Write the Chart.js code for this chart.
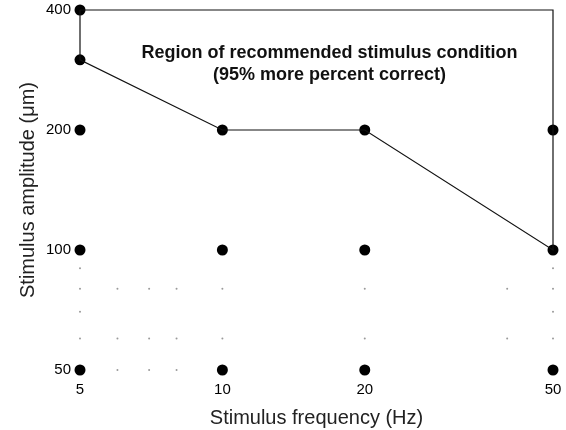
<!DOCTYPE html>
<html>
<head>
<meta charset="utf-8">
<script src="https://cdn.jsdelivr.net/npm/chart.js@4/dist/chart.umd.min.js"></script>
<style>
  html, body { margin: 0; padding: 0; background: #fff; }
  #wrap { width: 566px; height: 430px; }
</style>
</head>
<body>
<div id="wrap"><canvas id="c" width="566" height="430"></canvas></div>
<script>
// Measured stimulus conditions (frequency Hz, amplitude µm)
const measuredFreq = [5, 5, 5, 5, 5, 10, 10, 10, 20, 20, 20, 50, 50, 50];
const measuredAmp  = [400, 300, 200, 100, 50, 200, 100, 50, 200, 100, 50, 200, 100, 50];

// Boundary of recommended region
const regionFreq = [5, 5, 10, 20, 50, 50, 5];
const regionAmp  = [400, 300, 200, 200, 100, 400, 400];

// Faint background dots
const minorFreq = [5, 6, 7, 8, 10, 20, 40, 50, 5, 6, 7, 8, 10, 20, 40, 50, 5, 50, 5, 50, 6, 7, 8];
const minorAmp  = [80, 80, 80, 80, 80, 80, 80, 80, 60, 60, 60, 60, 60, 60, 60, 60, 70, 70, 90, 90, 50, 50, 50];

const xTicks = [5, 10, 20, 50];
const yTicks = [50, 100, 200, 400];

const regionLabel = ['Region of recommended stimulus condition', '(95% more percent correct)'];
const xTitle = 'Stimulus frequency (Hz)';
const yTitle = 'Stimulus amplitude (\u03BCm)';

const zip = (xs, ys) => xs.map((x, i) => ({ x: x, y: ys[i] }));

const FONT = "'Liberation Sans', Arial, Helvetica, sans-serif";

const labelPlugin = {
  id: 'regionLabel',
  afterDatasetsDraw(chart) {
    const ctx = chart.ctx;
    const xs = chart.scales.x, ys = chart.scales.y;
    const cx = (xs.getPixelForValue(5) + xs.getPixelForValue(50)) / 2 + 13;
    const y0 = ys.getPixelForValue(400) + 43;
    ctx.save();
    ctx.fillStyle = '#111';
    ctx.font = 'bold 18px ' + FONT;
    ctx.textAlign = 'center';
    ctx.textBaseline = 'middle';
    ctx.fillText(regionLabel[0], cx, y0);
    ctx.fillText(regionLabel[1], cx, y0 + 22);
    ctx.restore();
  }
};

new Chart(document.getElementById('c'), {
  type: 'scatter',
  data: {
    datasets: [
      {
        label: 'minor',
        data: zip(minorFreq, minorAmp),
        pointRadius: 1,
        pointBackgroundColor: '#9a9a9a',
        pointBorderWidth: 0,
        showLine: false
      },
      {
        label: 'region',
        type: 'line',
        data: zip(regionFreq, regionAmp),
        borderColor: '#111',
        borderWidth: 1.2,
        pointRadius: 0,
        fill: false,
        tension: 0
      },
      {
        label: 'conditions',
        data: zip(measuredFreq, measuredAmp),
        pointRadius: 5.5,
        pointBackgroundColor: '#000',
        pointBorderColor: '#000',
        pointBorderWidth: 0
      }
    ]
  },
  options: {
    responsive: false,
    animation: false,
    clip: false,
    layout: { padding: { top: 10, right: 13, left: 0, bottom: 0 } },
    plugins: {
      legend: { display: false },
      tooltip: { enabled: false }
    },
    scales: {
      x: {
        type: 'logarithmic',
        min: 5,
        max: 50,
        grid: { display: false, drawTicks: false },
        border: { display: false },
        afterBuildTicks: (s) => { s.ticks = xTicks.map(v => ({ value: v })); },
        afterFit: (s) => { s.height = 60; s.paddingLeft = 0; s.paddingRight = 0; },
        ticks: {
          color: '#000',
          padding: 11,
          maxRotation: 0,
          font: { family: FONT, size: 15 },
          callback: (v) => String(v)
        },
        title: {
          display: true,
          text: xTitle,
          color: '#222',
          font: { family: FONT, size: 20 },
          padding: { top: 0, bottom: 0 }
        }
      },
      y: {
        type: 'logarithmic',
        min: 50,
        max: 400,
        grid: { display: false, drawTicks: false },
        border: { display: false },
        afterBuildTicks: (s) => { s.ticks = yTicks.map(v => ({ value: v })); },
        afterFit: (s) => { s.width = 80; s.paddingTop = 0; s.paddingBottom = 0; },
        ticks: {
          color: '#000',
          padding: 9,
          font: { family: FONT, size: 15 },
          callback: (v) => String(v)
        },
        title: {
          display: true,
          text: yTitle,
          color: '#222',
          font: { family: FONT, size: 20 },
          padding: { top: 16, bottom: 0 }
        }
      }
    }
  },
  plugins: [labelPlugin]
});
</script>
</body>
</html>
